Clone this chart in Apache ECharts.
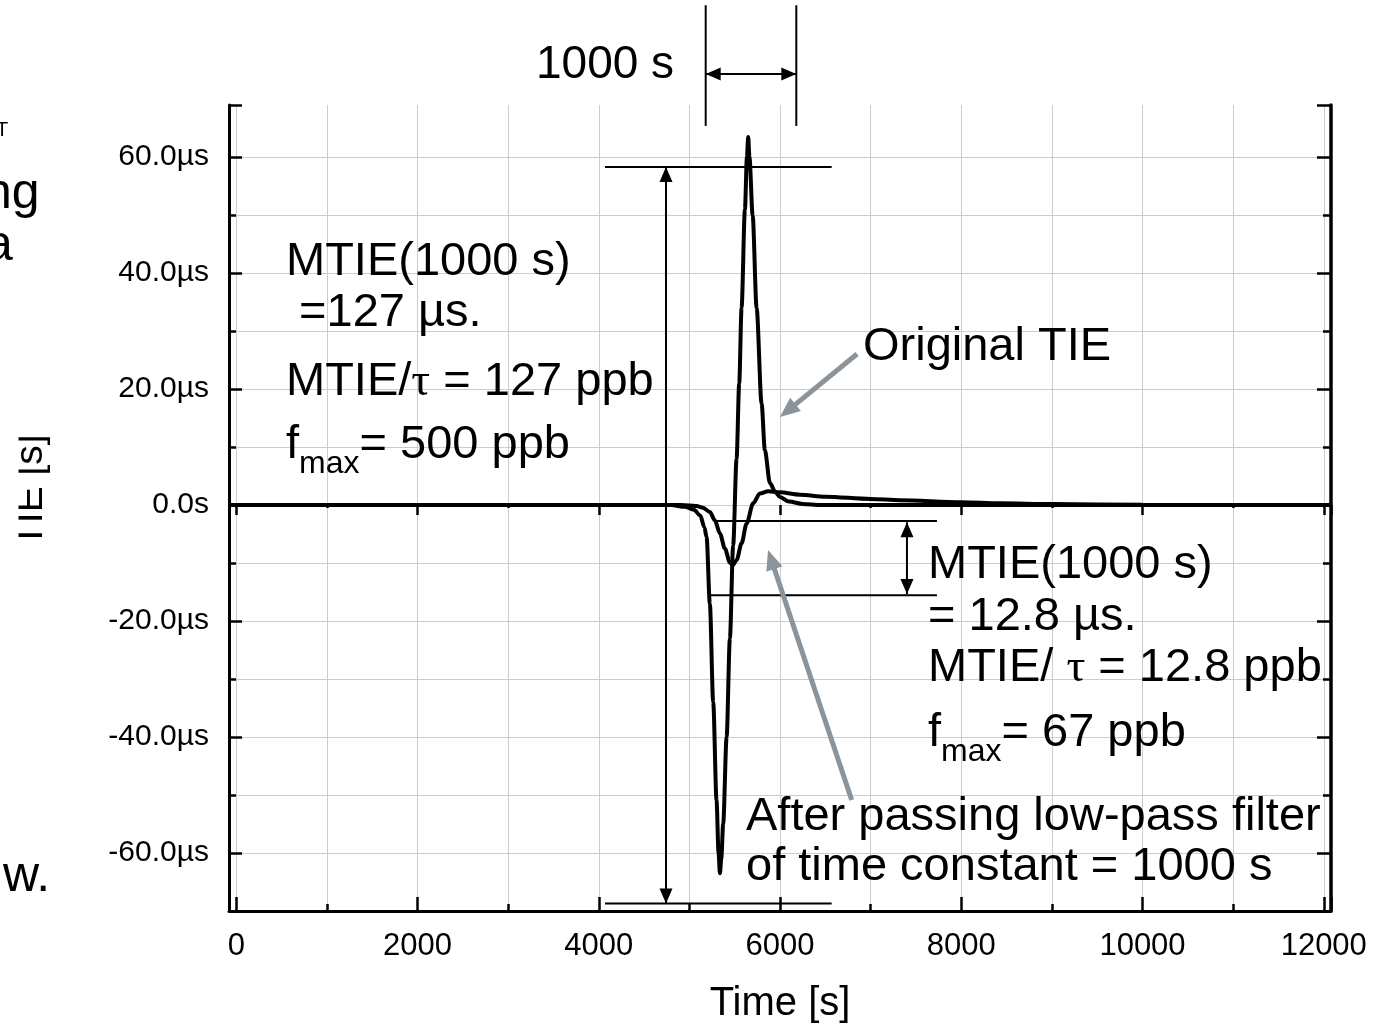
<!DOCTYPE html>
<html>
<head>
<meta charset="utf-8">
<script src="https://cdn.jsdelivr.net/npm/echarts@6.0.0/dist/echarts.min.js"></script>
<style>
  html, body { margin: 0; padding: 0; background: #ffffff; }
  #chart { width: 1378px; height: 1024px; }
</style>
</head>
<body>
<div id="chart"></div>
<script>
// Phase transient: time (s) and TIE (µs) of the original signal
const originalTime = [-80, 4800, 4950, 5050, 5120, 5165, 5190, 5226, 5263, 5300, 5322, 5337, 5352, 5373, 5411, 5447, 5483, 5521, 5550, 5576, 5613, 5635, 5649, 5663, 5698, 5742, 5797, 5833, 5889, 5950, 6000, 6100, 6250, 6450, 12080];
const originalTie = [0, 0, -0.3, -0.8, -1.8, -3.8, -5.5, -17, -34, -51, -60, -63.5, -61, -55, -40, -23, -7, 8, 21, 34, 51, 60, 63.5, 60, 50, 34, 17.5, 9.5, 3.8, 2.2, 1.4, 0.6, 0.2, 0, 0];

// Same transient after the low-pass filter (time constant 1000 s)
const filteredTime = [-80, 4900, 5000, 5079, 5150, 5226, 5281, 5337, 5392, 5447, 5477, 5521, 5576, 5631, 5704, 5778, 5870, 6000, 6220, 6500, 7000, 7323, 8000, 8427, 9000, 10000, 11000, 12080];
const filteredTie = [0, 0, -0.05, -0.15, -0.45, -1.2, -2.6, -4.9, -7.5, -9.9, -10.4, -9.5, -6.6, -3.2, 0.3, 2.0, 2.4, 2.2, 1.8, 1.45, 1.05, 0.85, 0.5, 0.32, 0.17, 0.05, 0.01, 0];

// Axis ranges and label steps
const timeRange = [-80, 12080];
const tieRange = [-70, 69];
const timeLabelStep = 2000;
const tieLabelStep = 20;

const FONT = '"Liberation Sans", Arial, Helvetica, sans-serif';
const SERIF = '"Liberation Serif", "Times New Roman", serif';
const GRID_COLOR = '#cccccc';
const ARROW_GRAY = '#8b939b';

function pairs(xs, ys) { return xs.map((x, i) => [x, ys[i]]); }

function tieLabel(v) {
  if (v % tieLabelStep !== 0) return '';
  return v === 0 ? '0.0s' : v.toFixed(1) + 'µs';
}
function timeLabel(v) {
  return v % timeLabelStep === 0 ? String(v) : '';
}

const chart = echarts.init(document.getElementById('chart'), null, { renderer: 'canvas' });

const tickStyle = { color: '#000', width: 2.5 };
const splitStyle = { color: GRID_COLOR, width: 1 };

const option = {
  animation: false,
  backgroundColor: '#ffffff',
  grid: { left: 229, right: 47, top: 105, bottom: 113, containLabel: false, outerBoundsMode: 'none' },
  xAxis: [
    {
      type: 'value', position: 'bottom', min: timeRange[0], max: timeRange[1], splitNumber: 6,
      axisLine: { show: true, onZero: false, lineStyle: { color: '#000', width: 3 } },
      axisTick: { show: true, inside: true, length: 14, lineStyle: tickStyle },
      minorTick: { show: true, splitNumber: 2, length: 7, lineStyle: tickStyle },
      splitLine: { show: true, showMinLine: false, showMaxLine: false, lineStyle: splitStyle },
      minorSplitLine: { show: true, lineStyle: splitStyle },
      axisLabel: { margin: 20, fontSize: 31, color: '#000', fontFamily: FONT, formatter: timeLabel, hideOverlap: false },
      name: 'Time [s]', nameLocation: 'middle', nameGap: 73,
      nameTextStyle: { fontSize: 40, color: '#000', fontFamily: FONT }
    },
    {
      type: 'value', position: 'top', min: timeRange[0], max: timeRange[1], splitNumber: 6,
      axisLine: { show: false },
      axisTick: { show: true, inside: true, length: 10, lineStyle: tickStyle },
      minorTick: { show: true, splitNumber: 2, length: 3, lineStyle: tickStyle },
      splitLine: { show: false }, axisLabel: { show: false }
    }
  ],
  yAxis: [
    {
      type: 'value', position: 'left', min: tieRange[0], max: tieRange[1], splitNumber: 7,
      axisLine: { show: true, onZero: false, lineStyle: { color: '#000', width: 3 } },
      axisTick: { show: true, inside: true, length: 13, lineStyle: tickStyle },
      minorTick: { show: true, splitNumber: 2, length: 7, lineStyle: tickStyle },
      splitLine: { show: true, showMinLine: false, showMaxLine: false, lineStyle: splitStyle },
      minorSplitLine: { show: true, lineStyle: splitStyle },
      axisLabel: { margin: 20, fontSize: 30, color: '#000', fontFamily: FONT, formatter: tieLabel, hideOverlap: false }
    },
    {
      type: 'value', position: 'right', min: tieRange[0], max: tieRange[1], splitNumber: 7,
      axisLine: { show: true, onZero: false, lineStyle: { color: '#000', width: 3.5 } },
      axisTick: { show: true, inside: true, length: 14, lineStyle: tickStyle },
      minorTick: { show: true, splitNumber: 2, length: 8, lineStyle: tickStyle },
      splitLine: { show: false }, axisLabel: { show: false }
    }
  ],
  series: [
    {
      name: 'Original TIE', type: 'line', xAxisIndex: 0, yAxisIndex: 0,
      data: pairs(originalTime, originalTie), showSymbol: false,
      smooth: 0.3, smoothMonotone: 'x',
      lineStyle: { color: '#000', width: 4 }, z: 5
    },
    {
      name: 'Filtered TIE', type: 'line', xAxisIndex: 0, yAxisIndex: 0,
      data: pairs(filteredTime, filteredTie), showSymbol: false,
      smooth: 0.3, smoothMonotone: 'x',
      lineStyle: { color: '#000', width: 4 }, z: 5
    }
  ]
};
chart.setOption(option);

// ---- annotations, anchored in data coordinates where they refer to the data ----
function P(t, v) { return chart.convertToPixel({ seriesIndex: 0 }, [t, v]); }

function seg(a, b, width, color) {
  return { type: 'line', shape: { x1: a[0], y1: a[1], x2: b[0], y2: b[1] },
           style: { stroke: color || '#000', lineWidth: width }, z: 20 };
}
function head(tip, from, len, wid, color) {
  const dx = tip[0] - from[0], dy = tip[1] - from[1];
  const d = Math.hypot(dx, dy), ux = dx / d, uy = dy / d;
  const bx = tip[0] - ux * len, by = tip[1] - uy * len;
  return { type: 'polygon', z: 21,
    shape: { points: [[tip[0], tip[1]], [bx - uy * wid / 2, by + ux * wid / 2], [bx + uy * wid / 2, by - ux * wid / 2]] },
    style: { fill: color || '#000' } };
}
// shaft stops at the base of the head so thick shafts do not poke past the tip
function arrow(from, tip, width, color, len, wid) {
  const dx = tip[0] - from[0], dy = tip[1] - from[1];
  const d = Math.hypot(dx, dy);
  const base = [tip[0] - dx / d * (len - 2), tip[1] - dy / d * (len - 2)];
  return [seg(from, base, width, color), head(tip, from, len, wid, color)];
}
function doubleArrow(a, b, width, len, wid) {
  return [seg(a, b, width), head(a, b, len, wid), head(b, a, len, wid)];
}
function txt(x, baseline, text, size, extra) {
  return Object.assign({ type: 'text', x: x, y: baseline - 0.31 * size, z: 30,
    style: { text: text, fontSize: size, fontFamily: FONT, fill: '#000', verticalAlign: 'middle', align: 'left' } }, extra || {});
}
function richTxt(x, baseline, text, size, rich) {
  return { type: 'text', x: x, y: baseline - 0.31 * size, z: 30,
    style: { text: text, fontSize: size, fontFamily: FONT, fill: '#000', verticalAlign: 'middle', align: 'left', rich: rich } };
}
const subRich = {
  b: { fontSize: 47, fontFamily: FONT, lineHeight: 70, fill: '#000' },
  s: { fontSize: 32, fontFamily: FONT, lineHeight: 32, verticalAlign: 'bottom', fill: '#000' },
  t: { fontSize: 47, fontFamily: SERIF, lineHeight: 70, fill: '#000' }
};

const g = [];
// window of 1000 s above the plot
const wL = 5180, wR = 6180;
g.push(seg(P(wL, 86.2), P(wL, 65.4), 2));
g.push(seg(P(wR, 86.2), P(wR, 65.4), 2));
g.push(...doubleArrow(P(wL, 74.35), P(wR, 74.35), 2, 15, 13));
g.push(txt(536, 80, '1000 s', 46));

// peak-to-peak of the original TIE (127 µs)
const bigTop = 58.3, bigBot = -68.7;
g.push(seg(P(4069, bigTop), P(6570, bigTop), 2));
g.push(seg(P(4069, bigBot), P(6570, bigBot), 2));
g.push(...doubleArrow(P(4742, bigTop), P(4742, bigBot), 2, 15, 13));

// peak-to-peak of the filtered TIE (12.8 µs)
const smTop = -2.75, smBot = -15.55;
g.push(seg(P(5283, smTop), P(7732, smTop), 2));
g.push(seg(P(5238, smBot), P(7732, smBot), 2));
g.push(...doubleArrow(P(7401, smTop - 0.2), P(7401, smBot + 0.2), 2, 15, 13));

// pointers to the two curves
g.push(...arrow(P(6850, 26.06), P(6000, 15.2), 5, ARROW_GRAY, 20, 17));
g.push(...arrow(P(6791, -50.86), P(5868, -7.74), 5, ARROW_GRAY, 20, 17));

// left text block
g.push(txt(286, 277, 'MTIE(1000 s)', 47));
g.push(txt(286, 328, ' =127 µs.', 47));
g.push(richTxt(286, 397, '{b|MTIE/}{t|τ}{b| = 127 ppb}', 47, subRich));
g.push(richTxt(286, 460, '{b|f}{s|max}{b|= 500 ppb}', 47, subRich));
g.push(txt(863, 362, 'Original TIE', 47));

// right text block
g.push(txt(928, 580, 'MTIE(1000 s)', 47));
g.push(txt(928, 632, '= 12.8 µs.', 47));
g.push(richTxt(928, 683, '{b|MTIE/ }{t|τ}{b| = 12.8 ppb}', 47, subRich));
g.push(richTxt(928, 748, '{b|f}{s|max}{b|= 67 ppb}', 47, subRich));
g.push(txt(746, 832, 'After passing low-pass filter', 47));
g.push(txt(746, 882, 'of time constant = 1000 s', 47));

// vertical axis title, its upper edge hidden under the neighbouring text column
const titleSize = 39;
g.push({ type: 'text', x: 43 - 0.31 * titleSize, y: 547, rotation: Math.PI / 2, z: 30,
  style: { text: 'TIE [s]', fontSize: titleSize, fontFamily: FONT, fill: '#000', verticalAlign: 'middle', align: 'left' } });
g.push({ type: 'rect', shape: { x: 0, y: 420, width: 18.5, height: 145 }, style: { fill: '#ffffff' }, z: 31 });

// fragments of the neighbouring paragraph at the left edge
g.push(txt(-4, 137, 'T', 20));
g.push(txt(-16, 210, 'ng', 50));
g.push(txt(-15, 262, 'a', 50));
g.push(txt(3, 893, 'w.', 50));

chart.setOption({ graphic: { elements: g } });
</script>
</body>
</html>
